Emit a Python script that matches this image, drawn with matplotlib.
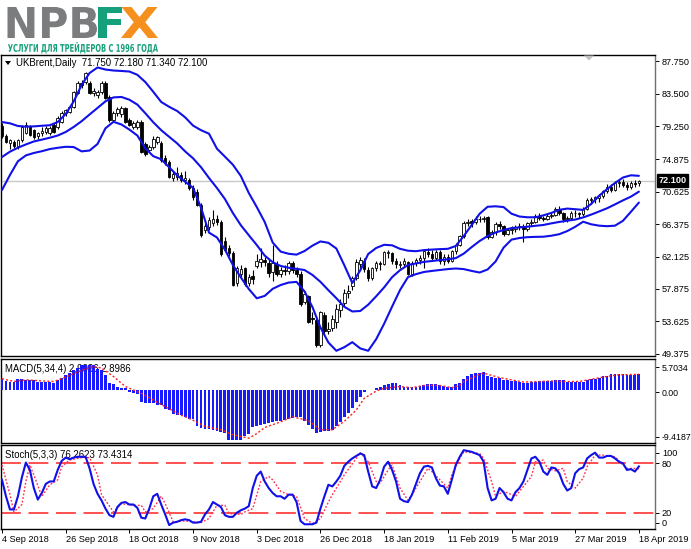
import matplotlib
matplotlib.use('Agg')
import matplotlib.pyplot as plt
import numpy as np
import matplotlib.transforms as mtransforms
from matplotlib.textpath import TextPath
from matplotlib.patches import PathPatch, Polygon
from matplotlib.font_manager import FontProperties

plt.rcParams['font.family'] = ['Liberation Sans', 'DejaVu Sans']

# ---------------- data ----------------
opens = [79.2, 77.9, 77.0, 77.2, 76.6, 77.4, 78.4, 79.2, 78.7, 77.9,
         78.3, 78.5, 78.4, 79.4, 79.1, 79.8, 80.9, 81.1, 81.8, 83.6,
         84.9, 85.0, 84.9, 83.6, 83.3, 83.7, 84.9, 83.1, 80.0, 80.9,
         80.8, 81.6, 80.0, 79.1, 79.1, 79.8, 76.9, 76.1, 76.5, 77.2,
         77.0, 75.1, 74.6, 72.4, 72.6, 72.8, 72.2, 72.2, 71.1, 70.6,
         68.9, 65.6, 66.0, 66.5, 67.0, 66.6, 64.2, 63.3, 62.6, 58.6,
         59.9, 60.6, 58.6, 59.6, 60.9, 61.4, 61.7, 61.3, 60.1, 61.1,
         59.9, 60.3, 60.2, 61.3, 60.4, 59.9, 56.2, 56.9, 54.0, 53.8,
         50.5, 54.5, 52.3, 52.7, 53.6, 55.1, 56.0, 57.3, 58.2, 59.3,
         61.1, 61.6, 60.4, 59.3, 60.6, 61.3, 61.2, 62.6, 62.6, 61.5,
         61.0, 61.1, 61.4, 59.9, 61.3, 61.7, 61.9, 62.7, 62.5, 62.0,
         62.7, 61.6, 62.1, 61.6, 62.8, 63.7, 64.8, 66.5, 66.8, 66.6,
         67.1, 67.0, 67.3, 64.7, 65.3, 66.4, 66.1, 65.1, 65.6, 65.8,
         66.0, 66.2, 65.7, 66.5, 66.7, 67.5, 67.2, 67.1, 67.5, 67.6,
         68.4, 67.9, 67.0, 67.2, 67.9, 67.8, 67.7, 68.4, 69.5, 69.7,
         69.8, 70.1, 70.7, 71.3, 70.9, 71.8, 71.9, 71.5, 71.3, 71.8,
         71.75]
highs = [79.6, 78.2, 77.6, 77.4, 77.6, 79.4, 79.8, 79.4, 78.9, 78.5,
         79.1, 79.2, 79.3, 79.6, 80.6, 81.2, 81.5, 82.0, 83.9, 85.1,
         85.3, 86.4, 85.2, 84.3, 84.0, 85.2, 85.1, 83.3, 81.2, 81.8,
         81.9, 81.8, 80.3, 79.9, 80.0, 80.1, 77.2, 76.8, 77.9, 78.0,
         77.3, 75.4, 74.8, 73.4, 73.9, 73.2, 73.4, 72.5, 71.5, 71.0,
         69.2, 66.5, 67.3, 68.2, 67.6, 66.9, 64.7, 63.6, 62.9, 60.9,
         61.0, 60.8, 59.9, 60.3, 62.4, 63.2, 62.1, 61.8, 63.6, 61.5,
         60.8, 61.0, 61.5, 61.6, 60.8, 60.2, 57.6, 57.1, 54.8, 54.0,
         55.0, 54.9, 53.6, 54.5, 55.9, 56.5, 57.9, 58.4, 59.6, 61.8,
         62.1, 61.9, 60.7, 60.8, 61.6, 61.6, 62.9, 63.0, 62.7, 61.9,
         61.6, 61.9, 61.5, 61.5, 61.9, 62.3, 62.9, 63.3, 63.0, 63.0,
         63.0, 62.5, 62.5, 63.0, 63.9, 65.0, 66.8, 67.1, 67.0, 67.4,
         67.4, 67.5, 67.5, 65.6, 66.6, 66.8, 66.3, 65.9, 66.1, 66.3,
         66.5, 66.4, 66.7, 67.1, 67.7, 67.8, 67.5, 67.7, 67.9, 68.6,
         68.7, 68.0, 67.5, 68.1, 68.2, 68.0, 68.6, 69.8, 69.9, 70.1,
         70.3, 70.9, 71.6, 71.6, 72.0, 72.2, 72.3, 71.9, 72.0, 72.2,
         72.18]
lows = [77.7, 77.0, 76.3, 76.4, 76.3, 77.2, 78.2, 78.0, 77.6, 77.6,
        78.0, 78.2, 78.1, 78.3, 78.9, 79.6, 80.6, 80.9, 81.6, 83.4,
        84.2, 84.8, 83.4, 83.2, 82.9, 83.5, 82.8, 79.8, 79.9, 80.6,
        80.5, 79.6, 79.2, 78.9, 78.9, 75.7, 75.3, 75.8, 76.2, 76.9,
        74.6, 74.2, 72.4, 72.1, 72.2, 71.9, 71.6, 70.9, 69.6, 68.7,
        64.7, 65.2, 65.6, 66.2, 66.3, 62.2, 62.8, 62.2, 58.2, 58.3,
        59.5, 58.2, 58.3, 58.5, 60.6, 60.8, 60.9, 59.5, 58.9, 59.6,
        59.5, 59.7, 59.9, 60.0, 59.5, 55.6, 55.9, 53.4, 53.3, 50.3,
        50.2, 51.9, 51.9, 52.4, 52.7, 54.2, 55.6, 56.7, 57.7, 59.0,
        60.3, 60.1, 58.9, 59.0, 60.2, 60.3, 61.0, 62.0, 61.2, 60.6,
        60.6, 60.8, 59.7, 59.6, 60.9, 61.2, 60.6, 62.1, 61.6, 61.7,
        61.2, 61.0, 61.3, 61.4, 62.4, 63.5, 64.6, 66.2, 66.0, 66.4,
        66.6, 66.7, 64.4, 64.5, 65.0, 65.8, 64.8, 64.9, 65.1, 65.4,
        65.6, 64.0, 65.5, 66.1, 66.5, 66.9, 66.8, 66.9, 67.2, 67.4,
        67.6, 66.6, 66.6, 67.0, 67.3, 67.2, 67.5, 68.3, 69.0, 69.1,
        69.3, 69.8, 70.5, 70.6, 70.7, 71.2, 71.2, 70.9, 71.0, 71.3,
        71.34]
closes = [77.9, 77.2, 77.4, 76.6, 77.4, 79.1, 79.4, 78.1, 77.8, 78.3,
          78.6, 79.0, 79.0, 78.5, 80.3, 80.9, 81.3, 81.8, 83.7, 84.9,
          84.7, 86.2, 83.6, 83.9, 83.7, 84.9, 82.9, 80.0, 81.0, 81.5,
          81.6, 79.8, 79.4, 79.6, 79.8, 75.9, 75.6, 76.5, 77.6, 77.8,
          74.8, 74.4, 72.6, 73.0, 73.1, 72.2, 72.5, 71.1, 69.9, 68.9,
          65.0, 66.2, 66.9, 67.1, 66.7, 62.4, 63.0, 62.6, 58.4, 60.6,
          60.5, 58.5, 59.5, 59.2, 61.6, 61.8, 61.4, 60.0, 61.3, 59.9,
          60.3, 60.2, 61.3, 60.3, 59.9, 55.9, 57.2, 53.6, 53.9, 50.5,
          54.8, 52.4, 52.6, 53.9, 55.3, 55.9, 57.3, 57.6, 59.3, 61.4,
          61.7, 60.5, 59.3, 60.6, 61.3, 61.2, 62.7, 62.6, 61.5, 61.1,
          61.2, 61.6, 59.9, 61.3, 61.7, 61.9, 62.8, 62.5, 62.0, 62.7,
          61.6, 62.1, 61.5, 62.8, 63.7, 64.8, 66.5, 66.7, 66.5, 67.1,
          67.0, 67.2, 64.7, 65.3, 66.4, 66.1, 65.1, 65.6, 65.8, 66.0,
          66.2, 65.7, 66.5, 66.7, 67.5, 67.2, 67.1, 67.5, 67.6, 68.4,
          67.9, 67.0, 67.2, 67.9, 67.8, 67.7, 68.4, 69.6, 69.7, 69.9,
          70.1, 70.7, 71.3, 70.9, 71.8, 71.9, 71.5, 71.3, 71.8, 71.6,
          72.10]

# Bollinger band readings, every second bar (bars 0, 2, ..., 160)
band_idx = list(range(0, 161, 2))
band_upper = [79.78, 79.61, 79.26, 79.17, 79.21, 79.29, 79.36, 79.78, 80.83, 82.47,
              84.64, 86.21, 86.94, 86.67, 86.54, 86.48, 86.41, 85.98, 85.03, 83.75,
              82.41, 81.78, 81.23, 80.40, 79.31, 78.71, 78.25, 76.28, 75.24, 74.18,
              72.70, 70.47, 68.63, 66.66, 63.97, 62.78, 62.49, 62.38, 62.85, 63.56,
              64.11, 63.93, 63.18, 60.98, 58.66, 60.31, 62.46, 63.25, 63.67, 63.60,
              63.14, 62.89, 62.83, 62.97, 63.04, 63.10, 63.14, 63.51, 64.82, 66.27,
              67.75, 68.66, 68.72, 68.62, 67.75, 67.38, 67.28, 67.28, 67.53, 67.85,
              68.26, 68.42, 68.34, 68.25, 69.02, 70.10, 70.97, 71.78, 72.50, 72.79,
              72.72]
band_middle = [75.19, 75.89, 76.41, 76.84, 77.23, 77.47, 77.72, 78.01, 78.47, 79.13,
               79.89, 80.77, 81.63, 82.50, 83.01, 83.07, 82.71, 82.07, 80.94, 79.75,
               78.71, 77.84, 76.98, 75.93, 75.02, 73.85, 72.44, 71.12, 69.68, 67.84,
               66.24, 64.93, 63.64, 62.25, 61.39, 60.89, 60.66, 60.51, 60.36, 59.71,
               58.81, 57.71, 56.66, 55.53, 54.92, 54.98, 55.81, 56.91, 58.08, 59.42,
               60.34, 61.02, 61.22, 61.43, 61.54, 61.66, 61.77, 61.92, 62.51, 63.37,
               64.17, 64.82, 65.28, 65.61, 65.86, 65.95, 66.04, 66.16, 66.27, 66.48,
               66.67, 66.83, 66.98, 67.26, 67.63, 68.04, 68.46, 68.97, 69.50, 69.99,
               70.64]
band_lower = [70.86, 72.83, 74.63, 75.40, 75.72, 75.95, 76.23, 76.40, 76.53, 76.50,
              75.93, 76.04, 76.90, 78.96, 79.81, 79.46, 78.79, 78.01, 76.33, 75.30,
              74.89, 73.84, 72.78, 71.95, 71.14, 68.54, 65.27, 64.63, 63.05, 61.02,
              59.39, 57.87, 56.65, 56.96, 57.89, 58.39, 58.71, 58.80, 57.55, 55.49,
              52.82, 50.85, 49.76, 50.23, 50.89, 50.07, 49.76, 51.28, 53.31, 55.56,
              57.74, 59.43, 59.82, 60.10, 60.24, 60.36, 60.48, 60.56, 60.48, 60.24,
              60.03, 60.43, 61.48, 63.29, 64.35, 64.56, 64.67, 64.71, 64.73, 64.86,
              65.06, 65.47, 66.03, 66.70, 66.36, 66.18, 66.11, 66.18, 66.82, 68.00,
              69.21]

macd_hist = [2.1, 1.7, 1.6, 1.6, 2.0, 2.0, 1.9, 1.9, 1.8, 1.6,
             1.6, 1.5, 1.5, 1.4, 1.9, 2.2, 2.8, 3.1, 3.6, 4.0,
             4.5, 4.6, 4.6, 4.5, 3.9, 3.6, 2.8, 1.3, 1.1, 0.7,
             0.5, 0.4, -0.2, -0.4, -0.7, -2.0, -2.2, -2.3, -2.3, -2.5,
             -2.6, -3.3, -3.5, -4.2, -4.4, -4.4, -4.8, -5.0, -5.0, -6.3,
             -6.7, -6.8, -6.8, -7.1, -7.3, -7.4, -7.5, -8.8, -8.9, -8.9,
             -8.8, -8.2, -7.8, -6.6, -6.4, -6.2, -5.9, -5.8, -5.7, -5.5,
             -5.5, -5.3, -5.1, -4.9, -4.7, -4.8, -5.4, -6.2, -6.8, -7.6,
             -7.4, -7.3, -7.2, -7.1, -6.4, -5.6, -4.8, -4.1, -3.2, -2.0,
             -1.1, -0.3, 0.0, 0.1, 0.4, 0.7, 1.0, 1.1, 1.3, 1.3,
             0.9, 0.7, 0.7, 0.6, 0.7, 0.8, 1.0, 1.1, 1.1, 1.1,
             1.0, 0.8, 0.6, 0.7, 1.1, 1.4, 2.1, 2.6, 2.9, 3.1,
             3.2, 3.3, 2.6, 2.4, 2.3, 2.2, 1.9, 1.8, 1.7, 1.7,
             1.5, 1.4, 1.4, 1.5, 1.6, 1.7, 1.7, 1.7, 1.7, 1.8,
             1.9, 1.8, 1.6, 1.6, 1.5, 1.5, 1.6, 1.8, 2.0, 2.1,
             2.2, 2.5, 2.6, 2.9, 3.0, 2.9, 2.9, 2.8, 2.8, 2.8,
             2.9]
macd_sig_idx = [0, 3, 6, 10, 13, 16, 20, 23, 25, 28, 31, 35, 38, 41, 45, 48, 51, 55, 58, 62,
                64, 66, 70, 73, 77, 80, 83, 86, 89, 91, 94, 96, 100, 103, 106, 110, 113, 115,
                116, 120, 121, 125, 128, 131, 135, 138, 141, 145, 148, 151, 155, 158, 160]
macd_sig = [2.1, 1.6, 1.9, 1.7, 1.6, 2.4, 3.6, 4.3, 4.0, 2.5, 0.7, -0.5, -1.7, -2.9, -4.4,
            -5.3, -6.4, -7.0, -7.9, -8.5, -7.7, -6.6, -5.6, -4.7, -5.4, -7.0, -7.0, -5.5,
            -3.5, -1.4, -0.1, 0.4, 0.7, 0.5, 0.9, 0.9, 0.5, 0.9, 1.6, 2.9, 3.1, 2.3, 1.9,
            1.5, 1.6, 1.7, 1.6, 1.6, 2.0, 2.4, 2.8, 2.85, 2.90]

stoch_main = [60, 40, 24, 24, 40, 63, 81, 72, 50, 36,
              44, 55, 58, 58, 72, 83, 87, 85, 87, 88,
              88, 88, 74, 55, 43, 35, 25, 17, 15, 27,
              32, 33, 30, 30, 26, 14, 13, 25, 40, 43,
              30, 18, 5, 8, 9, 11, 12, 11, 8, 8,
              9, 18, 24, 33, 30, 27, 17, 15, 15, 20,
              23, 25, 28, 50, 65, 70, 58, 50, 44, 40,
              40, 37, 42, 42, 33, 10, 6, 6, 6, 8,
              25, 40, 54, 52, 58, 65, 77, 82, 86, 89,
              92, 90, 70, 52, 50, 60, 76, 82, 72, 58,
              37, 34, 33, 42, 55, 68, 76, 77, 75, 62,
              53, 52, 43, 60, 78, 88, 96, 95, 94, 92,
              90, 82, 50, 35, 37, 50, 45, 37, 35, 45,
              50, 58, 72, 86, 88, 82, 70, 66, 75, 74,
              68, 55, 47, 50, 68, 73, 75, 86, 90, 93,
              87, 87, 89, 89, 86, 82, 80, 72, 73, 70,
              76.26]
stoch_sig_idx = [0, 2, 3, 5, 6, 7, 8, 10, 12, 14, 15, 17, 20, 22, 24, 25, 28, 30, 33, 35,
                 36, 38, 40, 41, 43, 46, 50, 52, 54, 56, 57, 60, 61, 63, 65, 67, 68, 70, 72, 74,
                 76, 78, 80, 82, 83, 86, 89, 90, 92, 94, 95, 97, 98, 100, 102, 103, 105, 107,
                 108, 110, 112, 113, 115, 116, 120, 121, 123, 124, 126, 128, 129, 131, 133,
                 134, 136, 137, 139, 141, 142, 144, 146, 147, 149, 151, 154, 156, 157, 160]
stoch_sig = [78, 42, 21, 30, 58, 78, 66, 40, 54, 60, 76, 84, 87, 87, 66, 42, 21, 31, 29, 29,
             21, 25, 40, 31, 9, 10, 8, 13, 29, 29, 19, 18, 21, 25, 58, 64, 60, 46, 42, 40,
             13, 7, 13, 33, 42, 66, 86, 93, 82, 58, 56, 72, 78, 50, 35, 42, 58, 74,
             70, 60, 50, 66, 86, 94, 92, 86, 58, 40, 46, 42, 40, 52, 64,
             82, 84, 74, 71, 74, 58, 50, 62, 76, 90, 90, 88, 78, 74, 73.43]

price_ticks = [87.750, 83.500, 79.250, 74.875, 70.625, 66.375, 62.125, 57.875, 53.625, 49.375]
date_tick_idx = [0, 16, 32, 48, 64, 80, 96, 112, 128, 144, 160]
date_tick_labels = ['4 Sep 2018', '26 Sep 2018', '18 Oct 2018', '9 Nov 2018', '3 Dec 2018',
                    '26 Dec 2018', '18 Jan 2019', '11 Feb 2019', '5 Mar 2019', '27 Mar 2019',
                    '18 Apr 2019']
last_price = 72.100

# ---------------- layout ----------------
W, H = 691, 549
fig = plt.figure(figsize=(W / 100, H / 100), dpi=100)
fig.patch.set_facecolor('white')


def rect(x0, y0, x1, y1):
    return [x0 / W, 1 - y1 / H, (x1 - x0) / W, (y1 - y0) / H]


ax = fig.add_axes(rect(1, 55, 655, 356))
axm = fig.add_axes(rect(1, 358.5, 655, 443.3))
axs = fig.add_axes(rect(1, 445, 655, 528.5))

BLUE = '#1010e8'
FS = 6.6
HFS = 6.9
XL = (-0.25, 164.05)

for a in (ax, axm, axs):
    a.set_xlim(*XL)
    a.set_facecolor('white')
    for s in ('left', 'top', 'bottom'):
        a.spines[s].set_color('black')
        a.spines[s].set_linewidth(1.0)
    a.spines['right'].set_color('#707070')
    a.spines['right'].set_linewidth(1.0)
    a.yaxis.tick_right()
    a.tick_params(axis='y', length=3, width=0.7, pad=2, labelsize=FS, colors='black')
    a.set_xticks([])

# ---------------- main price panel ----------------
x = np.arange(len(closes))
o = np.array(opens)
c = np.array(closes)
hi = np.array(highs)
lo = np.array(lows)
up = c >= o
body_b = np.minimum(o, c)
body_h = np.maximum(np.abs(c - o), 0.07)

ax.axhline(last_price, color='#c8c8c8', lw=1.0, zorder=1)
ax.vlines(x, lo, hi, color='black', lw=0.8, zorder=3)
ax.bar(x[up], body_h[up], bottom=body_b[up], width=0.64, color='white',
       edgecolor='black', linewidth=0.6, zorder=4)
ax.bar(x[~up], body_h[~up], bottom=body_b[~up], width=0.64, color='black',
       edgecolor='black', linewidth=0.6, zorder=4)

for band in (band_upper, band_middle, band_lower):
    ax.plot(band_idx, band, color=BLUE, lw=1.5, zorder=5, solid_joinstyle='round',
            solid_capstyle='round')

ax.set_ylim(49.075, 88.577)
ax.set_yticks(price_ticks)
ax.set_yticklabels([f'{v:.3f}' for v in price_ticks])

blend = mtransforms.blended_transform_factory(ax.transAxes, ax.transData)
ax.text(1.0055, last_price, f'{last_price:.3f}', transform=blend, color='white',
        fontsize=FS, fontweight='bold', va='center', ha='left', clip_on=False, zorder=10,
        bbox=dict(boxstyle='square,pad=0.18', fc='black', ec='black'))

ax.text(16 / W, 1 - 63 / H, 'UKBrent,Daily  71.750 72.180 71.340 72.100',
        transform=fig.transFigure, fontsize=HFS, va='center', ha='left', color='black',
        zorder=6)

# ---------------- MACD panel ----------------
axm.bar(x, macd_hist, width=0.72, color='#1a1aff', linewidth=0, zorder=3)
axm.plot(macd_sig_idx, macd_sig, color='#ff2020', lw=1.0, ls=(0, (1.5, 1.5)), zorder=4)
axm.set_ylim(-9.4187, 5.7034)
axm.set_yticks([4.14, -0.3, -8.24])
axm.set_yticklabels(['5.7034', '0.00', '-9.4187'])
axm.tick_params(axis='y', pad=1.5, labelsize=6.3)
axm.text(5 / W, 1 - 369 / H, 'MACD(5,34,4) 2.9036 2.8986', transform=fig.transFigure,
         fontsize=HFS, va='center', ha='left', color='black', zorder=1)

# ---------------- Stochastic panel ----------------
axs.set_ylim(0.85, 102.3)
for lvl in (80, 20):
    axs.axhline(lvl, color='#ff2020', lw=1.1, ls=(0, (13, 5)), zorder=2)
axs.plot(x, stoch_main, color=BLUE, lw=1.5, zorder=4, solid_joinstyle='round')
axs.plot(stoch_sig_idx, stoch_sig, color='#ff3050', lw=1.0, ls=(0, (1.3, 1.3)), zorder=3)
axs.set_yticks([92.9, 80, 20, 7.9])
axs.set_yticklabels(['100', '80', '20', '0'])
axs.set_xticks(date_tick_idx)
axs.set_xticklabels(date_tick_labels, ha='left')
axs.tick_params(axis='x', length=3, width=0.7, pad=2, labelsize=FS, colors='black')
axs.text(5 / W, 1 - 455 / H, 'Stoch(5,3,3) 76.2623 73.4314', transform=fig.transFigure,
         fontsize=HFS, va='center', ha='left', color='black', zorder=1)

# ---------------- decorations (pixel coordinates) ----------------
pix = mtransforms.Affine2D().scale(1 / 100) + fig.dpi_scale_trans


def poly(pts, color):
    p = Polygon([(px, H - py) for px, py in pts], closed=True, color=color, lw=0,
                transform=pix)
    fig.add_artist(p)


poly([(5, 61), (11, 61), (8, 65)], 'black')
poly([(584, 55.5), (594, 55.5), (589, 60.5)], '#c0c0c0')


def text_box(s, x0, y0, x1, y1, color, family='DejaVu Sans', weight='bold'):
    fp = FontProperties(family=family, weight=weight)
    tp = TextPath((0, 0), s, size=100, prop=fp)
    bb = tp.get_extents()
    sx = (x1 - x0) / bb.width
    sy = (y1 - y0) / bb.height
    tr = (mtransforms.Affine2D().translate(-bb.x0, -bb.y0).scale(sx, sy)
          .translate(x0, H - y1)) + pix
    fig.add_artist(PathPatch(tp, transform=tr, color=color, lw=0))


text_box('NPB', 7.5, 7, 97, 38, '#7b7c7e')
text_box('F', 98, 7, 122, 38, '#13a07a')
text_box('X', 121, 7, 158, 38, '#f5901e')
text_box('УСЛУГИ ДЛЯ ТРЕЙДЕРОВ С 1996 ГОДА', 8, 42, 158, 53.5, '#17a07c')

fig.savefig('out.png', dpi=100, facecolor='white')
